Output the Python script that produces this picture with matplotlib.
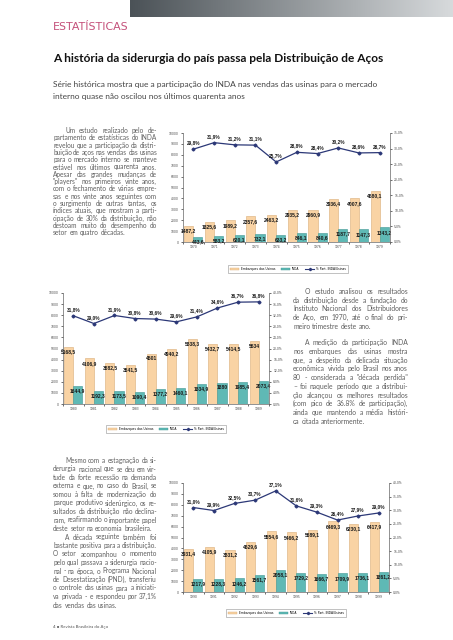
import numpy as np
import matplotlib.pyplot as plt
from matplotlib.patches import Patch
from matplotlib.lines import Line2D
from matplotlib.colors import LinearSegmentedColormap

W, H = 453, 640

# --- dados (mil t) ---
anos_70 = ['1970', '1971', '1972', '1973', '1974', '1975', '1976', '1977', '1978', '1979']
usinas_70 = [1487.2, 1825.6, 1989.2, 2357.6, 2463.2, 2935.2, 2960.9, 3936.4, 4007.6, 4680.1]
inda_70 = [443.6, 583.2, 620.1, 732.1, 633.2, 846.1, 840.6, 1187.7, 1147.3, 1343.2]
part_70 = [29.8, 31.9, 31.2, 31.1, 25.7, 28.8, 28.4, 30.2, 28.6, 28.7]

anos_80 = ['1980', '1981', '1982', '1983', '1984', '1985', '1986', '1987', '1988', '1989']
usinas_80 = [5168.5, 4106.9, 3682.5, 3541.5, 4501, 4940.2, 5838.3, 5432.7, 5414.5, 5634]
inda_80 = [1644.9, 1192.3, 1173.5, 1090.4, 1377.2, 1460.1, 1834.9, 1880, 1985.4, 2073.4]
part_80 = [31.8, 29.0, 31.9, 30.8, 30.6, 29.6, 31.4, 34.6, 36.7, 36.8]

anos_90 = ['1990', '1991', '1992', '1993', '1994', '1995', '1996', '1997', '1998', '1999']
usinas_90 = [3931.4, 4105.9, 3831.2, 4629.6, 5554.6, 5466.2, 5689.1, 6469.3, 6230.1, 6417.9]
inda_90 = [1217.9, 1228.3, 1246.2, 1561.7, 2058.1, 1729.2, 1666.7, 1709.9, 1736.1, 1861.2]
part_90 = [31.0, 29.9, 32.5, 33.7, 37.1, 31.6, 29.3, 26.4, 27.9, 29.0]

legenda = ['Embarques das Usinas', 'INDA', '% Part. INDA/Usinas']

PEACH, PEACH_E = '#f9d3a4', '#d9ad78'
TEAL, TEAL_E = '#5fb9b5', '#3f9894'
NAVY = '#2c3877'
BODY = ['Lato', 'DejaVu Sans']
GRAY = '#5e5e5e'

fig = plt.figure(figsize=(W / 100, H / 100), dpi=100)
fig.patch.set_facecolor('white')
r = fig.canvas.get_renderer()


def pf(x, y):
    return x / W, 1 - y / H


def rect(x0, y0, x1, y1):
    return [x0 / W, 1 - y1 / H, (x1 - x0) / W, (y1 - y0) / H]


def fit_text(x, y, s, width, **kw):
    t = fig.text(*pf(x, y), s, va='center', ha='left', **kw)
    w = t.get_window_extent(r).width
    t.set_fontsize(t.get_fontsize() * width / w)
    return t


def bloco(paras, x0, x1, y0, step, size, indent=12, gap=0):
    # texto justificado, palavra por palavra (y = linha de base)
    y = y0
    space = size * 1.389 * 0.26
    for p in paras:
        for i, line in enumerate(p):
            start = x0 + (indent if i == 0 else 0)
            words = line.split()
            ts = [fig.text(0, 0, w, fontsize=size, family=BODY,
                           color=GRAY, va='baseline') for w in words]
            ws = [t.get_window_extent(r).width for t in ts]
            if i == len(p) - 1 or len(words) == 1:
                sp = space
            else:
                sp = max((x1 - start - sum(ws)) / (len(words) - 1), space * 0.8)
            xx = start
            for t, w in zip(ts, ws):
                t.set_position(pf(xx, y))
                xx += w + sp
            y += step
        y += gap * step


def fmt(v):
    return str(int(v)) if v == int(v) else f'{v:.1f}'.replace('.', ',')


def grafico(box, anos, usinas, inda, part, pmax, pstep, leg_xy):
    ax = fig.add_axes(rect(*box))
    x = np.arange(len(anos))
    ax.bar(x - 0.22, usinas, 0.44, color=PEACH, edgecolor=PEACH_E, lw=0.4, zorder=2)
    ax.bar(x + 0.22, inda, 0.44, color=TEAL, edgecolor=TEAL_E, lw=0.4, zorder=2)
    for xi, v in zip(x, usinas):
        ax.annotate(fmt(v), (xi - 0.22, v), xytext=(0, -3.5), textcoords='offset points',
                    ha='center', va='center', fontsize=3.6, weight='bold',
                    color='#1a1a1a', family='Liberation Sans', zorder=5)
    for xi, v in zip(x, inda):
        ax.annotate(fmt(v), (xi + 0.22, v), xytext=(0, -3.5), textcoords='offset points',
                    ha='center', va='center', fontsize=3.6, weight='bold',
                    color='#1a1a1a', family='Liberation Sans', zorder=5)
    ax.set_xlim(-0.5, len(anos) - 0.5)
    ax.set_ylim(0, 10000)
    ax.set_yticks(np.arange(0, 10001, 1000))
    ax.set_xticks(np.arange(-0.5, len(anos), 1))
    ax.set_xticklabels([])
    ax.set_xticks(x, minor=True)
    ax.set_xticklabels(anos, minor=True)
    ax.tick_params(axis='x', which='major', length=1.5, width=0.4)
    ax.tick_params(axis='x', which='minor', length=0, labelsize=2.2, pad=2, labelcolor='#444')
    ax.tick_params(axis='y', length=1.5, width=0.4, labelsize=2.2, pad=1.5, labelcolor='#444')
    for s in ['top', 'right']:
        ax.spines[s].set_visible(False)
    for s in ['left', 'bottom']:
        ax.spines[s].set_linewidth(0.5)
        ax.spines[s].set_color('#666')
    ax.patch.set_alpha(0)

    ax2 = ax.twinx()
    ax2.plot(x, part, color=NAVY, lw=0.9, marker='D', ms=1.5, zorder=3)
    for xi, v in zip(x, part):
        ax2.annotate(f'{v:.1f}%'.replace('.', ','), (xi, v), xytext=(0, 4.5),
                     textcoords='offset points', ha='center', va='center',
                     fontsize=3.4, weight='bold', color='#1a1a1a', family='Liberation Sans')
    ax2.set_ylim(0, pmax)
    tk = np.arange(0, pmax + 0.01, pstep)
    ax2.set_yticks(tk)
    ax2.set_yticklabels([f'{t:.1f}%'.replace('.', ',') for t in tk])
    ax2.tick_params(axis='y', length=1.5, width=0.4, labelsize=2.2, pad=1.5, labelcolor='#444')
    for s in ['top', 'left', 'bottom']:
        ax2.spines[s].set_visible(False)
    ax2.spines['right'].set_linewidth(0.5)
    ax2.spines['right'].set_color('#666')

    handles = [Patch(facecolor=PEACH, edgecolor=PEACH_E, lw=0.3),
               Patch(facecolor=TEAL, edgecolor=TEAL_E, lw=0.3),
               Line2D([], [], color=NAVY, lw=0.8, marker='D', ms=1.2)]
    leg = fig.legend(handles, legenda, loc='center', bbox_to_anchor=pf(*leg_xy), ncol=3,
                     fontsize=2.2, frameon=True, fancybox=False, edgecolor='#777',
                     borderpad=0.6, columnspacing=1.8, handlelength=3, handleheight=0.6,
                     handletextpad=0.6)
    leg.get_frame().set_linewidth(0.4)


# barra degradê no topo
gax = fig.add_axes(rect(130, 0, 453, 17))
gax.imshow(np.linspace(0, 1, 256)[None, :], aspect='auto',
           cmap=LinearSegmentedColormap.from_list('g', ['#4b5257', '#d7dadc']))
gax.axis('off')

fit_text(53, 27, 'ESTATÍSTICAS', 75, color='#c4507a', family='DejaVu Sans', fontsize=6)
fit_text(53, 58, 'A história da siderurgia do país passa pela Distribuição de Aços', 335,
         family=BODY, weight='bold', color='#111', fontsize=8)
fit_text(53, 85, 'Série histórica mostra que a participação do INDA nas vendas das usinas para o mercado',
         324, family=BODY, color='#444', fontsize=6)
fit_text(53, 97, 'interno quase não oscilou nos últimos quarenta anos', 190,
         family=BODY, color='#444', fontsize=6)

texto1 = [[
    'Um estudo realizado pelo de-',
    'partamento de estatísticas do INDA',
    'revelou que a participação da distri-',
    'buição de aços nas vendas das usinas',
    'para o mercado interno se manteve',
    'estável nos últimos quarenta anos.',
    'Apesar das grandes mudanças de',
    '"players" nos primeiros vinte anos,',
    'com o fechamento de várias empre-',
    'sas e nos vinte anos seguintes com',
    'o surgimento de outras tantas, os',
    'índices atuais, que mostram a parti-',
    'cipação de 30% da distribuição, não',
    'destoam muito do desempenho do',
    'setor em quatro décadas.',
]]
texto2 = [[
    'O estudo analisou os resultados',
    'da distribuição desde a fundação do',
    'Instituto Nacional dos Distribuidores',
    'de Aço, em 1970, até o final do pri-',
    'meiro trimestre deste ano.',
], [
    'A medição da participação INDA',
    'nos embarques das usinas mostra',
    'que, a despeito da delicada situação',
    'econômica vivida pelo Brasil nos anos',
    '80 - considerada a "década perdida"',
    '– foi naquele período que a distribui-',
    'ção alcançou os melhores resultados',
    '(com pico de 36.8% de participação),',
    'ainda que mantendo a média históri-',
    'ca citada anteriormente.',
]]
texto3 = [[
    'Mesmo com a estagnação da si-',
    'derurgia nacional que se deu em vir-',
    'tude da forte recessão na demanda',
    'externa e que, no caso do Brasil, se',
    'somou à falta de modernização do',
    'parque produtivo siderúrgico, os re-',
    'sultados da distribuição não declina-',
    'ram, reafirmando o importante papel',
    'deste setor na economia brasileira.',
], [
    'A década seguinte também foi',
    'bastante positiva para a distribuição.',
    'O setor acompanhou o momento',
    'pelo qual passava a siderurgia nacio-',
    'nal - na época, o Programa Nacional',
    'de Desestatização (PND), transferiu',
    'o controle das usinas para a iniciati-',
    'va privada - e respondeu por 37,1%',
    'das vendas das usinas.',
]]

bloco(texto1, 53, 157, 133, 7.3, 4.7)
bloco(texto2, 293, 408, 294, 8.7, 4.9, gap=0.9)
bloco(texto3, 53, 157, 463, 8.5, 4.7)

fit_text(53, 627, '4 \u25cf Revista Brasileira do Aço', 54, family=BODY, color='#555', fontsize=3)

grafico((183, 133, 390, 242), anos_70, usinas_70, inda_70, part_70, 35, 5, (288, 269))
grafico((63, 293, 269, 404), anos_80, usinas_80, inda_80, part_80, 40, 4, (166, 429))
grafico((183, 483, 389, 592), anos_90, usinas_90, inda_90, part_90, 40, 5, (286, 613))

fig.savefig('out.png', dpi=100)
